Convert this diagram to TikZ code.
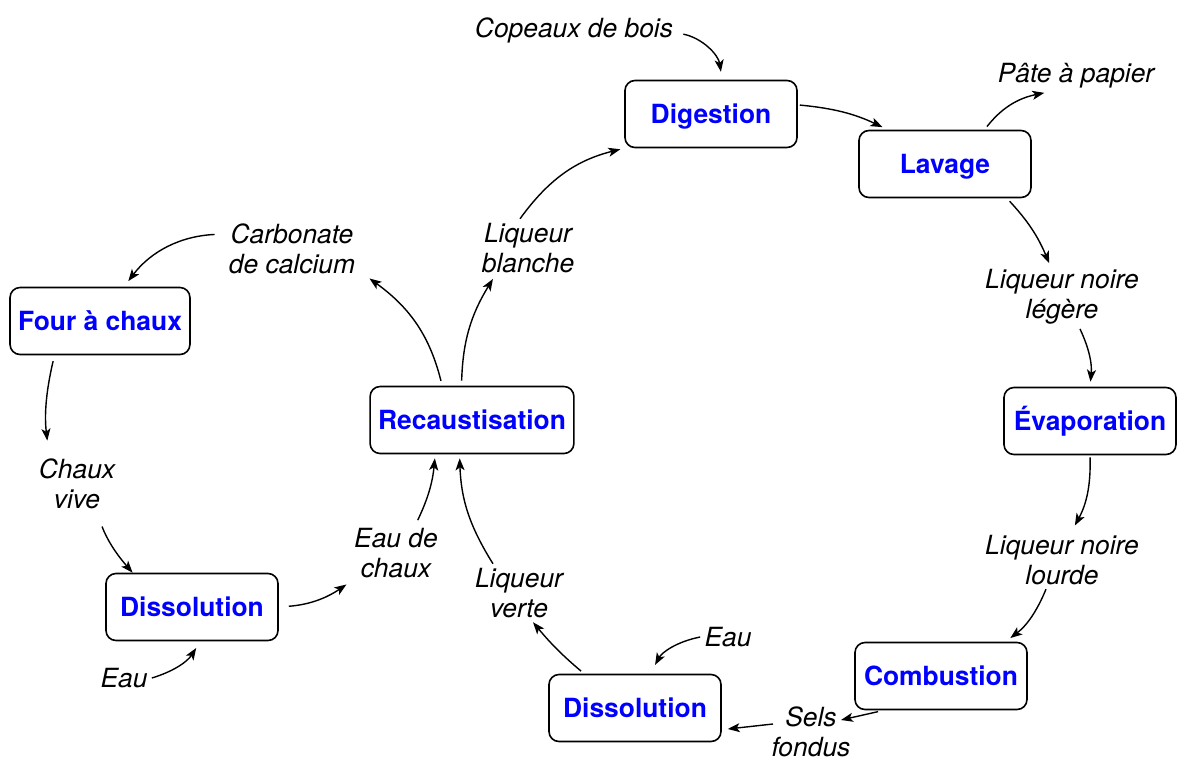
\documentclass[tikz,border=0pt]{standalone}
\usepackage{fontspec}
\setmainfont{TeX Gyre Heros}
\usetikzlibrary{arrows.meta}
\tikzstyle{etape} = [draw, line width=0.8pt, rounded corners=5pt, minimum width=86pt, minimum height=33.5pt, inner xsep=4pt, text height=9.6pt, text depth=0pt, font=\fontsize{13.2}{15}\selectfont\bfseries, text=blue]
\tikzstyle{produit} = [font=\fontsize{13.2}{15}\selectfont\itshape, align=center, inner sep=2pt]
\tikzstyle{arrow} = [line width=0.7pt,->,>={Stealth[length=6pt,width=4.5pt,inset=1.5pt]}]

\begin{document}
\begin{tikzpicture}[x=0.5pt, y=-0.5pt]
        \useasboundingbox (0,0) rectangle (1183,761);

        % Etapes
        \node[etape] (dig) at (711,114) {Digestion};
        \node[etape] (lav) at (945,164) {Lavage};
        \node[etape] (evap) at (1090,421) {Évaporation};
        \node[etape] (comb) at (941,676) {Combustion};
        \node[etape] (diss2) at (635,708) {Dissolution};
        \node[etape] (rec) at (472,420) {Recaustisation};
        \node[etape] (diss1) at (192,607) {Dissolution};
        \node[etape] (four) at (100,321) {Four à chaux};

        % Produits
        \node[produit] (copeaux) at (574,30) {Copeaux de bois};
        \node[produit] (pate) at (1076,76) {Pâte à papier};
        \node[produit] (legere) at (1062,297) {Liqueur noire\\légère};
        \node[produit] (lourde) at (1062,560) {Liqueur noire\\lourde};
        \node[produit] (sels) at (811,732) {Sels\\fondus};
        \node[produit] (eau2) at (728,637) {Eau};
        \node[produit] (verte) at (519,593) {Liqueur\\verte};
        \node[produit] (chaux) at (396,553) {Eau de\\chaux};
        \node[produit] (eau1) at (124,678) {Eau};
        \node[produit] (vive) at (77,484) {Chaux\\vive};
        \node[produit] (carb) at (292,249) {Carbonate\\de calcium};
        \node[produit] (blanche) at (528,248) {Liqueur\\blanche};

        % Fleches
        \draw[arrow, shorten <=3pt, shorten >=4pt] ([yshift=-1.5pt]copeaux.east) to[bend left=35] (dig.72);
        \draw[arrow, shorten <=1pt, shorten >=3pt] (dig.6) to[bend left=10] (lav.149);
        \draw[arrow, shorten <=2pt] (lav.41) to[bend left=20] (pate.208);
        \draw[arrow, shorten <=2pt, shorten >=1pt] (lav.-29) to[bend left=10] ([xshift=-6pt]legere.north);
        \draw[arrow, shorten >=2.5pt] ([xshift=9pt]legere.south) to[bend left=15] (evap.north);
        \draw[arrow, shorten <=1pt, shorten >=3pt] (evap.south) to[bend left=15] ([xshift=5pt]lourde.north);
        \draw[arrow, shorten >=3pt] ([xshift=-8pt]lourde.south) to[bend left=15] (comb.28);
        \draw[arrow, shorten <=3pt] (comb.211) to ([shift={(15pt,6pt)}]sels.center);
        \draw[arrow, shorten >=3pt] ([shift={(-19pt,4pt)}]sels.center) to (diss2.-14);
        \draw[arrow, shorten >=5pt] (eau2.west) to[bend right=25] (diss2.66);
        \draw[arrow, shorten <=2pt] (diss2.146) to[bend left=5] ([xshift=7pt]verte.south);
        \draw[arrow, shorten >=2pt] ([xshift=-13pt]verte.north) to[bend left=15] (rec.250);
        \draw[arrow, shorten <=2pt, shorten >=2pt] ([xshift=10pt]chaux.north) to[bend right=10] (rec.223);
        \draw[arrow, shorten <=5pt, shorten >=2pt] (diss1.east) to[bend right=15] (chaux.south west);
        \draw[arrow, shorten >=4pt] (eau1.east) to[bend right=20] (diss1.-76);
        \draw[arrow, shorten <=7pt] ([xshift=10pt]vive.south) to[bend right=10] (diss1.150);
        \draw[arrow, shorten <=3pt, shorten >=7pt] (four.217) to[bend right=10] ([xshift=-14pt]vive.north);
        \draw[arrow, shorten <=5pt, shorten >=3.5pt] ([yshift=7.5pt]carb.west) to[bend right=25] (four.55);
        \draw[arrow, shorten <=2.5pt] (rec.131) to[bend right=20] ([xshift=5pt]carb.south east);
        \draw[arrow, shorten <=2.5pt, shorten >=1pt] (rec.107) to[bend left=15] ([xshift=-17pt]blanche.south);
        \draw[arrow, shorten >=2pt] ([xshift=-4pt]blanche.north) to[bend left=20] (dig.south west);
\end{tikzpicture}
\end{document}
